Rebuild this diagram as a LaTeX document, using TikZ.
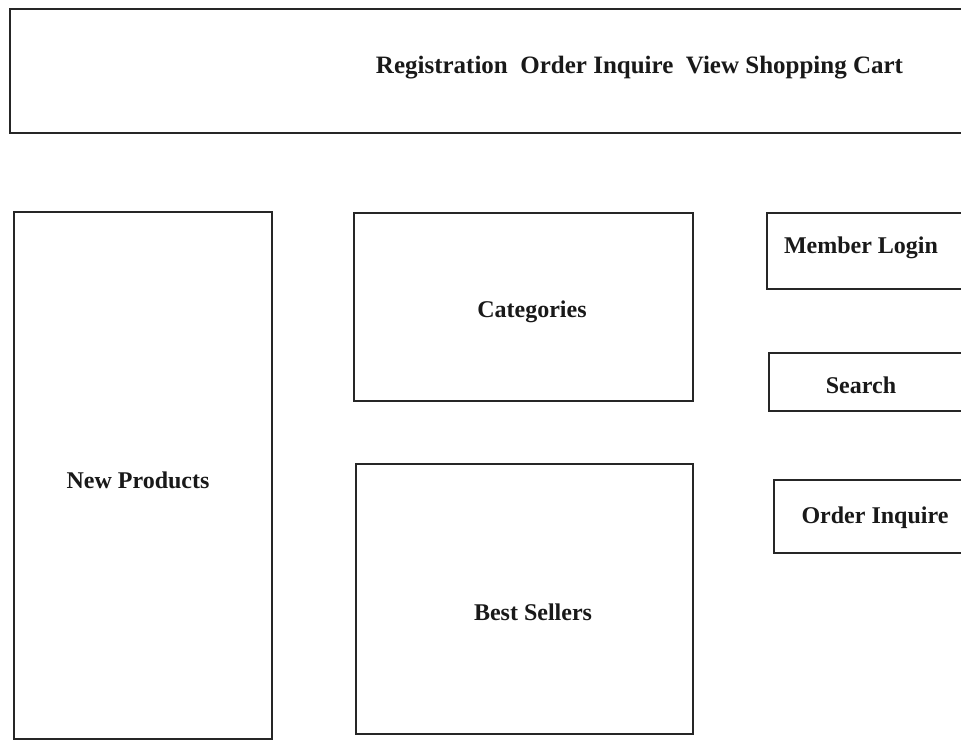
\documentclass[tikz,border=0pt]{standalone}
\usepackage{fontspec}
\setmainfont{Liberation Serif}
\begin{document}
\begin{tikzpicture}[x=1pt,y=-1pt,
  box/.style={draw=black!85,line width=1.3pt},
  lbl/.style={font=\fontsize{24}{28}\selectfont\bfseries,inner sep=0pt,text=black!90}]
\useasboundingbox (0,0) rectangle (961,740);
\clip (0,0) rectangle (961,740);
\fill[white] (0,0) rectangle (961,740);
% boxes
\draw[box] (10,9) rectangle (990,133);
\draw[box] (14,212) rectangle (272,739);
\draw[box] (354,213) rectangle (693,401);
\draw[box] (356,464) rectangle (693,734);
\draw[box] (767,213) rectangle (990,289);
\draw[box] (769,353) rectangle (990,411);
\draw[box] (774,480) rectangle (990,553);
% labels
\node[lbl,font=\fontsize{25}{29}\selectfont\bfseries] (top) at (639.5,68) {Registration\ \ Order Inquire\ \ View Shopping Cart};
\node[lbl] (cat) at (532,312) {Categories};
\node[lbl] (newp) at (138,480) {New Products};
\node[lbl] (best) at (533,612) {Best Sellers};
\node[lbl] (login) at (861,248) {Member Login};
\node[lbl] (search) at (861,385) {Search};
\node[lbl] (order) at (875,518) {Order Inquire};
\end{tikzpicture}
\end{document}
